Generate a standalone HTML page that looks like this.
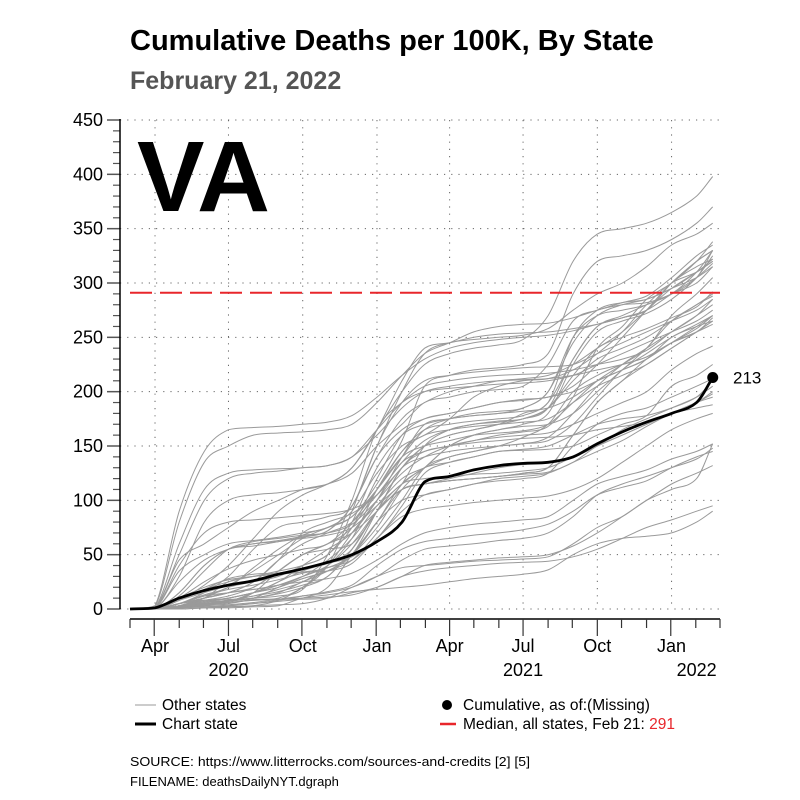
<!DOCTYPE html>
<html><head><meta charset="utf-8"><style>
body{margin:0;background:#fff;font-family:"Liberation Sans",Arial,sans-serif}
svg{display:block}
</style></head><body>
<svg id="chart" width="800" height="800" viewBox="0 0 800 800" xmlns="http://www.w3.org/2000/svg" font-family="Liberation Sans, Arial, sans-serif">
<text x="130" y="50" font-size="29" font-weight="bold" fill="#000">Cumulative Deaths per 100K, By State</text>
<text x="130" y="89" font-size="25" font-weight="bold" fill="#555">February 21, 2022</text>
<g id="grid"></g>
<g id="others"></g>
<g id="axes"></g>
<text x="137" y="211" font-size="100" font-weight="bold" fill="#000" textLength="133" lengthAdjust="spacingAndGlyphs">VA</text>
<g id="main"></g>
<g>
<line x1="135" y1="705" x2="156" y2="705" stroke="#999" stroke-width="1"/>
<text x="162" y="710" font-size="15.5">Other states</text>
<line x1="135" y1="724" x2="156" y2="724" stroke="#000" stroke-width="3"/>
<text x="162" y="729" font-size="15.5">Chart state</text>
<circle cx="447" cy="705" r="5" fill="#000"/>
<text x="463" y="710" font-size="15.5">Cumulative, as of:(Missing)</text>
<line x1="440" y1="724" x2="456" y2="724" stroke="#e8262b" stroke-width="2.5"/>
<text x="463" y="729" font-size="15.5">Median, all states, Feb 21: <tspan fill="#e8262b">291</tspan></text>
</g>
<text x="130" y="766" font-size="13" textLength="400" lengthAdjust="spacingAndGlyphs">SOURCE: https://www.litterrocks.com/sources-and-credits [2] [5]</text>
<text x="130" y="786" font-size="13">FILENAME: deathsDailyNYT.dgraph</text>
</svg>
<script>
// days since 2020-03-01 for each sample point
const sampleDays = [0,31,61,92,122,153,184,214,245,275,306,337,365,396,426,457,487,518,549,579,610,640,671,702,722];
const chartState = [0,1,10,17,22,26,32,37,43,50,62,80,117,122,128,132,134,135,140,152,163,172,180,190,213];
const medianValue = 291;
const yTicks = [0,50,100,150,200,250,300,350,400,450];
const monthLabels = ["Apr","Jul","Oct","Jan","Apr","Jul","Oct","Jan"];
const monthLabelDays = [31,122,214,306,396,487,579,671];
const yearLabels = ["2020","2021","2022"];
const yearLabelDays = [122,487,702];
const otherStates = [
[0,2,80,135,150,160,162,163,165,170,190,215,235,245,255,260,262,263,268,275,282,288,305,325,335],
[0,3,90,145,165,167,168,170,172,178,195,215,230,240,245,248,250,252,256,262,268,275,300,320,330],
[0,1,50,100,120,125,127,130,132,140,165,190,205,210,213,215,216,217,220,225,230,238,255,270,280],
[0,1,60,110,125,128,129,130,132,140,160,185,200,205,208,210,211,212,215,220,225,232,245,255,262],
[0,0,30,80,100,105,107,110,115,130,165,210,240,245,250,253,254,255,258,262,268,275,300,320,330],
[0,0,8,22,40,65,90,105,115,130,165,200,225,235,240,243,248,270,320,345,350,355,365,380,398],
[0,0,5,15,30,55,75,80,85,95,150,200,235,245,248,250,252,258,275,290,300,315,335,345,355],
[0,0,5,13,20,38,55,68,75,85,115,155,205,215,220,222,225,235,290,320,325,330,340,355,370],
[0,0,45,60,75,90,100,110,115,125,150,170,190,195,200,202,205,225,265,275,280,282,290,305,330],
[0,0,3,8,12,20,35,50,60,75,110,145,165,170,173,175,178,190,230,260,270,280,290,310,330],
[0,0,3,5,7,10,15,25,35,50,90,130,145,150,155,160,163,168,195,240,260,285,300,320,338],
[0,0,3,7,10,15,20,28,35,50,75,110,130,150,160,165,170,180,225,255,265,272,285,305,325],
[0,0,25,45,55,60,63,67,72,95,140,175,190,200,205,210,212,215,225,240,255,275,295,310,320],
[0,0,35,50,60,63,66,70,75,90,125,150,160,175,195,205,210,212,220,235,255,280,300,310,320],
[0,0,10,25,37,45,50,55,60,80,110,140,150,155,160,162,164,170,190,210,225,240,270,290,305],
[0,0,8,15,22,35,50,65,75,85,110,140,165,175,180,182,185,200,245,270,280,285,295,310,322],
[0,0,5,10,15,25,45,60,70,80,105,135,155,165,170,172,175,185,230,260,268,275,290,305,318],
[0,0,2,4,7,15,25,40,55,70,100,140,170,175,178,180,185,200,250,270,275,280,290,300,315],
[0,0,8,18,25,30,35,40,50,75,120,160,175,180,185,190,193,195,205,225,250,275,300,315,322],
[0,0,15,40,55,58,62,66,72,95,140,165,175,180,185,190,192,195,200,210,220,230,250,260,265],
[0,0,5,10,15,25,45,70,80,88,105,130,150,160,165,170,180,190,250,275,282,285,295,305,315],
[0,0,2,5,7,15,35,50,60,70,90,115,150,165,170,173,175,185,215,240,250,258,268,278,292],
[0,0,5,8,10,15,20,28,35,45,70,100,130,140,145,150,152,158,180,205,225,240,255,270,285],
[0,0,5,10,15,20,35,50,55,60,90,130,150,160,165,170,175,185,210,230,240,250,265,280,288],
[0,0,1,3,6,8,10,20,40,90,150,190,210,215,218,220,222,223,225,235,245,255,265,275,285],
[0,0,1,4,8,10,12,18,50,100,165,190,200,203,205,207,208,210,215,225,235,245,255,265,275],
[0,0,3,10,20,25,30,40,50,80,130,160,170,175,178,180,182,185,195,210,220,230,245,258,270],
[0,0,3,10,15,18,22,30,45,65,95,120,130,140,145,150,158,170,200,215,225,232,245,255,268],
[0,0,2,5,8,12,18,25,40,65,110,145,160,165,168,170,172,175,190,205,215,225,240,255,265],
[0,0,5,12,18,22,27,33,38,50,80,115,130,150,160,165,168,170,180,200,220,240,265,280,290],
[0,0,15,40,55,60,62,65,68,75,95,115,130,135,140,145,146,147,150,160,170,178,205,215,225],
[0,0,12,35,55,62,65,68,70,78,100,125,140,150,155,158,160,162,170,180,190,200,220,235,242],
[0,0,2,10,25,30,33,37,42,55,90,110,115,120,125,130,133,135,140,150,165,175,185,195,205],
[0,0,3,7,10,15,22,30,38,45,65,90,105,110,115,118,120,125,150,170,180,185,195,205,212],
[0,0,3,6,8,10,14,20,30,55,90,110,115,118,120,122,124,126,135,150,160,170,180,190,198],
[0,0,10,20,27,30,32,34,38,50,80,100,105,110,115,120,122,125,135,145,155,168,180,190,195],
[0,0,2,6,10,15,25,35,42,48,65,95,125,135,140,145,147,150,160,170,175,178,185,195,210],
[0,0,2,5,8,12,16,22,30,55,90,115,120,122,124,125,127,130,140,150,160,170,180,190,200],
[0,0,5,12,15,18,22,25,28,33,45,60,70,75,78,80,82,85,100,115,122,128,138,145,152],
[0,0,1,3,4,6,9,12,15,20,30,45,55,58,60,63,65,70,85,105,115,122,130,138,148],
[0,0,1,2,3,5,8,12,16,22,40,55,62,65,68,70,73,78,90,105,112,118,130,140,145],
[0,0,2,4,6,8,9,10,11,13,20,30,40,43,45,47,48,50,58,70,85,100,115,125,132],
[0,0,0,1,2,3,4,5,10,20,30,38,40,42,44,45,46,48,60,75,85,100,110,120,152],
[0,0,0,1,1,2,3,10,13,16,18,20,22,25,28,30,32,36,50,60,65,67,70,80,90],
[0,0,5,8,9,9,9,9,10,15,20,30,35,38,40,42,43,44,48,55,65,75,82,90,95],
[0,0,8,18,28,32,33,34,35,42,65,85,92,95,98,100,102,104,110,120,135,150,165,175,180],
[0,0,1,2,2,3,8,20,40,70,100,130,140,145,148,150,152,155,170,195,220,235,250,262,270],
[0,0,2,4,5,10,20,30,40,60,90,110,115,118,120,122,125,130,160,190,210,225,240,255,265],
[0,0,1,2,3,5,7,10,20,50,80,110,115,118,120,122,125,130,160,190,210,230,245,260,270],
[0,0,40,70,80,82,84,86,88,92,105,135,145,150,153,155,157,158,160,165,168,172,180,185,188]
];

const NS="http://www.w3.org/2000/svg";
const X0=130, X1=720, DAYS=731, Y0=609, PXU=489/450;
const xS=d=>X0+d*(X1-X0)/DAYS;
const yS=v=>Y0-v*PXU;
function mk(tag,attrs,parent){const e=document.createElementNS(NS,tag);for(const k in attrs)e.setAttribute(k,attrs[k]);parent.appendChild(e);return e;}
function pathFor(vals){
  let pts=vals.map((v,i)=>[xS(sampleDays[i]),yS(v)]);
  let d="M"+pts[0][0].toFixed(1)+","+pts[0][1].toFixed(1);
  for(let i=1;i<pts.length;i++){
    const p0=pts[i-1],p1=pts[i];const mx=(p1[0]-p0[0])/3;
    const sPrev=i>1?(p1[1]-pts[i-2][1])/(p1[0]-pts[i-2][0]):(p1[1]-p0[1])/(p1[0]-p0[0]);
    const sNext=i<pts.length-1?(pts[i+1][1]-p0[1])/(pts[i+1][0]-p0[0]):(p1[1]-p0[1])/(p1[0]-p0[0]);
    let c1y=p0[1]+sPrev*mx, c2y=p1[1]-sNext*mx;
    const lo=Math.min(p0[1],p1[1]),hi=Math.max(p0[1],p1[1]);
    c1y=Math.max(lo,Math.min(hi,c1y));c2y=Math.max(lo,Math.min(hi,c2y));
    d+=" C"+(p0[0]+mx).toFixed(1)+","+c1y.toFixed(1)+" "+(p1[0]-mx).toFixed(1)+","+c2y.toFixed(1)+" "+p1[0].toFixed(1)+","+p1[1].toFixed(1);
  }
  return d;
}
const grid=document.getElementById('grid'), axes=document.getElementById('axes');
yTicks.forEach(t=>{
  const gl=mk('line',{x1:120,x2:X1,y1:yS(t),y2:yS(t),stroke:'#666','stroke-width':1,'stroke-dasharray':'1.2 6'},grid);
  
  
  const tk=mk('line',{x1:107,x2:120,y1:yS(t),y2:yS(t),stroke:'#555','stroke-width':1.5},axes);
  
  
  const lb=mk('text',{x:103,y:yS(t)+6,'font-size':18,'text-anchor':'end'},axes);
  lb.textContent=t;
  
  
});
for(let v=10;v<450;v+=10){ if(v%50===0)continue;
  const m=mk('line',{x1:113,x2:120,y1:yS(v),y2:yS(v),stroke:'#555','stroke-width':1.2},axes);
  
  
}
const ya=mk('line',{x1:120,x2:120,y1:119,y2:Y0,stroke:'#000','stroke-width':1.5},axes);


monthLabelDays.forEach(d=>{
  const gl=mk('line',{x1:xS(d),x2:xS(d),y1:120,y2:Y0,stroke:'#666','stroke-width':1,'stroke-dasharray':'1.2 6'},grid);
  
  
});
const xa=mk('line',{x1:X0,x2:X1,y1:619,y2:619,stroke:'#000','stroke-width':1.5},axes);


for(let m=0;m<=24;m++){
  const d=Math.round(m*DAYS/24);
  const major=[1,4,7,10].includes((m+2)%12+1);
  const t=mk('line',{x1:xS(d),x2:xS(d),y1:619,y2:major?636:628,stroke:'#333','stroke-width':1.2},axes);
  
  
}
monthLabels.forEach((l,i)=>{
  const t=mk('text',{x:xS(monthLabelDays[i]),y:652,'font-size':18,'text-anchor':'middle'},axes);
  t.textContent=l;
  
  
});
yearLabels.forEach((l,i)=>{
  const t=mk('text',{x:xS(yearLabelDays[i]),y:676,'font-size':18,'text-anchor':'middle'},axes);
  t.textContent=l;
  
  
});
const others=document.getElementById('others');
otherStates.forEach(s=>{
  const p=mk('path',{d:pathFor(s),fill:'none',stroke:'#9a9a9a','stroke-width':1},others);
  
  
});
const main=document.getElementById('main');
const med=mk('line',{x1:X0,x2:X1,y1:yS(medianValue),y2:yS(medianValue),stroke:'#e8262b','stroke-width':2,'stroke-dasharray':'22 8'},main);


const vp=mk('path',{d:pathFor(chartState),fill:'none',stroke:'#000','stroke-width':2.8},main);


const last=chartState.length-1;
const dot=mk('circle',{cx:xS(sampleDays[last]),cy:yS(chartState[last]),r:5.5,fill:'#000'},main);


const lv=mk('text',{x:733,y:yS(chartState[last])+6,'font-size':17},main);
lv.textContent=chartState[last];


</script>
</body></html>
